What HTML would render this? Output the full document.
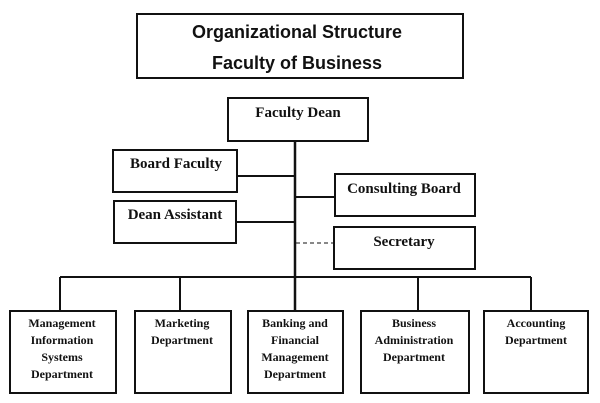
<!DOCTYPE html>
<html><head><style>
html,body{margin:0;padding:0;background:#fff;}
svg{display:block;}
.t{font-family:"Liberation Serif",serif;font-weight:bold;fill:#111;}
.h{font-family:"Liberation Sans",sans-serif;font-weight:bold;fill:#111;}
</style></head><body>
<svg width="600" height="403" viewBox="0 0 600 403" xmlns="http://www.w3.org/2000/svg">
<g fill="none" stroke="#111" stroke-width="2">
<rect x="137" y="14" width="326" height="64"/>
<rect x="228" y="98" width="140" height="43"/>
<rect x="113" y="150" width="124" height="42"/>
<rect x="114" y="201" width="122" height="42"/>
<rect x="335" y="174" width="140" height="42"/>
<rect x="334" y="227" width="141" height="42"/>
<rect x="10" y="311" width="106" height="82"/>
<rect x="135" y="311" width="96" height="82"/>
<rect x="248" y="311" width="95" height="82"/>
<rect x="361" y="311" width="108" height="82"/>
<rect x="484" y="311" width="104" height="82"/>
<line x1="295" y1="141" x2="295" y2="311" stroke-width="2.5"/>
<line x1="237" y1="176" x2="295" y2="176"/>
<line x1="236" y1="222" x2="295" y2="222"/>
<line x1="295" y1="197" x2="335" y2="197"/>
<line x1="60" y1="277" x2="531" y2="277"/>
<line x1="60" y1="277" x2="60" y2="311"/>
<line x1="180" y1="277" x2="180" y2="311"/>
<line x1="418" y1="277" x2="418" y2="311"/>
<line x1="531" y1="277" x2="531" y2="311"/>
<line x1="296" y1="243" x2="334" y2="243" stroke-width="1" stroke-dasharray="4,3"/>
</g>
<text class="h" x="297" y="38" font-size="18" text-anchor="middle">Organizational Structure</text>
<text class="h" x="297" y="69" font-size="18" text-anchor="middle">Faculty of Business</text>
<g class="t" font-size="15" text-anchor="middle">
<text x="298" y="117">Faculty Dean</text>
<text x="176" y="168">Board Faculty</text>
<text x="175" y="219">Dean Assistant</text>
<text x="404" y="193">Consulting Board</text>
<text x="404" y="246">Secretary</text>
</g>
<g class="t" font-size="12" text-anchor="middle">
<text x="62" y="327">Management</text>
<text x="62" y="344">Information</text>
<text x="62" y="361">Systems</text>
<text x="62" y="378">Department</text>
<text x="182" y="327">Marketing</text>
<text x="182" y="344">Department</text>
<text x="295" y="327">Banking and</text>
<text x="295" y="344">Financial</text>
<text x="295" y="361">Management</text>
<text x="295" y="378">Department</text>
<text x="414" y="327">Business</text>
<text x="414" y="344">Administration</text>
<text x="414" y="361">Department</text>
<text x="536" y="327">Accounting</text>
<text x="536" y="344">Department</text>
</g>
</svg>
</body></html>
